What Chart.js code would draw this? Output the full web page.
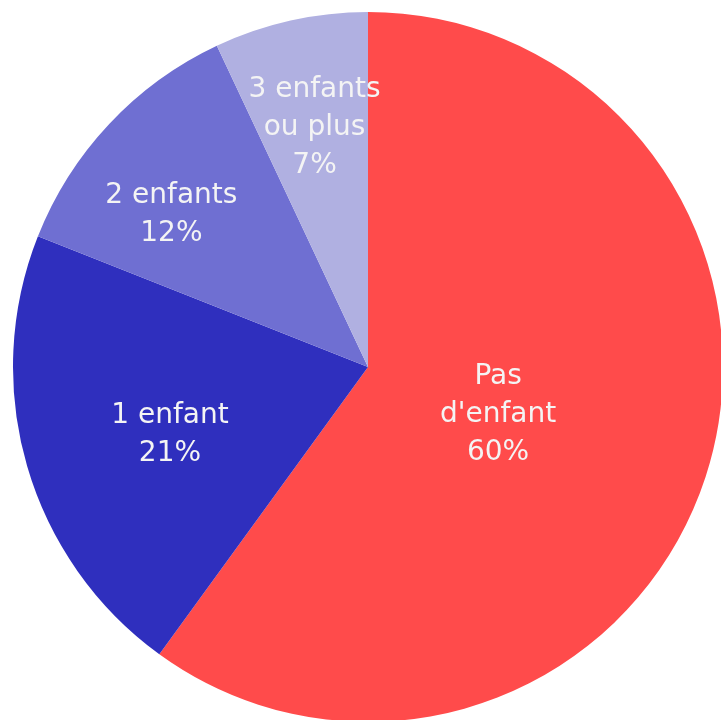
<!DOCTYPE html>
<html>
<head>
<meta charset="utf-8">
<script src="https://cdn.jsdelivr.net/npm/chart.js@4/dist/chart.umd.min.js"></script>
<style>
  html, body { margin: 0; padding: 0; background: #fff; overflow: hidden; }
  #wrap { width: 724px; height: 724px; position: relative; }
</style>
</head>
<body>
<div id="wrap"><canvas id="myChart"></canvas></div>
<script>
// data
const categories = [["Pas", "d'enfant"], ["1 enfant"], ["2 enfants"], ["3 enfants", "ou plus"]];
const shares = [60, 21, 12, 7];
const sliceColors = ["#FF4B4B", "#2F2FBE", "#6F6FD2", "#B0B0E1"];

// where each label sits: fraction of the radius, and a small angle shift (degrees)
const labelRadius = [0.39, 0.59, 0.70, 0.69];
const labelShift = [2, -2.8, -5.5, 0];

const sliceLabels = {
    id: "sliceLabels",
    afterDatasetsDraw(chart) {
        const ctx = chart.ctx;
        const meta = chart.getDatasetMeta(0);
        ctx.save();
        ctx.fillStyle = "#F4F4F4";
        ctx.font = "28px 'DejaVu Sans'";
        ctx.textAlign = "center";
        ctx.textBaseline = "middle";
        meta.data.forEach((arc, i) => {
            const p = arc.getProps(["x", "y", "startAngle", "endAngle", "outerRadius"], true);
            const mid = (p.startAngle + p.endAngle) / 2 + labelShift[i] * Math.PI / 180;
            const r = p.outerRadius * labelRadius[i];
            const cx = p.x + Math.cos(mid) * r;
            const cy = p.y + Math.sin(mid) * r;
            const lines = categories[i].concat([shares[i] + "%"]);
            const lh = 38;
            const top = cy - (lines.length - 1) * lh / 2;
            lines.forEach((t, k) => ctx.fillText(t, cx, top + k * lh));
        });
        ctx.restore();
    }
};

const ctx = document.getElementById("myChart").getContext("2d");
const myChart = new Chart(ctx, {
    type: "pie",
    data: {
        labels: categories,
        datasets: [{
            data: shares,
            backgroundColor: sliceColors,
            borderWidth: 0,
        }],
    },
    options: {
        responsive: true,
        maintainAspectRatio: false,
        animation: false,
        layout: { padding: { left: 13, right: 1, top: 12, bottom: 2 } },
        plugins: {
            legend: { display: false },
            tooltip: { enabled: false },
        },
    },
    plugins: [sliceLabels],
});
</script>
</body>
</html>
